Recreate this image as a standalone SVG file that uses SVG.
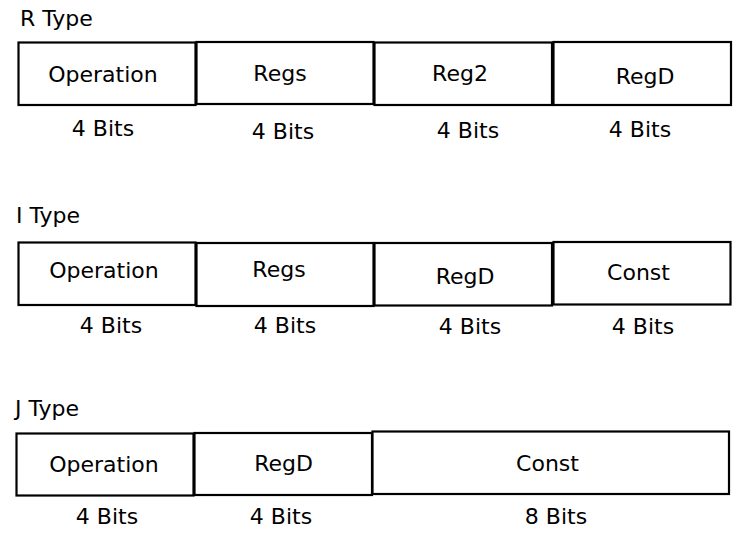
<svg xmlns="http://www.w3.org/2000/svg" width="740" height="538" viewBox="0 0 740 538">
  <style>
    .field { fill: #ffffff; stroke: #000000; stroke-width: 2.2; }
    text { font-family: "DejaVu Sans", "Liberation Sans", sans-serif; font-size: 22px; fill: #000000; }
    .c { text-anchor: middle; }
  </style>
  <rect x="0" y="0" width="740" height="538" fill="#ffffff"/>

  <!-- R type instruction format -->
  <g id="r-type">
    <text x="20" y="26">R Type</text>
    <g id="r-operation">
      <rect class="field" x="18.5" y="42.5" width="177" height="62.5"/>
      <text class="c" x="103" y="81.5">Operation</text>
      <text class="c" x="103" y="135.5">4 Bits</text>
    </g>
    <g id="r-regs">
      <rect class="field" x="196.5" y="42" width="177" height="62"/>
      <text class="c" x="280" y="80.5">Regs</text>
      <text class="c" x="283" y="138.5">4 Bits</text>
    </g>
    <g id="r-reg2">
      <rect class="field" x="374.5" y="42.5" width="177.5" height="62.5"/>
      <text class="c" x="460" y="80.5">Reg2</text>
      <text class="c" x="468" y="137.5">4 Bits</text>
    </g>
    <g id="r-regd">
      <rect class="field" x="553.5" y="42" width="177.5" height="63"/>
      <text class="c" x="645" y="83.5">RegD</text>
      <text class="c" x="640" y="136.5">4 Bits</text>
    </g>
  </g>

  <!-- I type instruction format -->
  <g id="i-type">
    <text x="16" y="222.5">I Type</text>
    <g id="i-operation">
      <rect class="field" x="18.5" y="242.5" width="177" height="62.5"/>
      <text class="c" x="104" y="277.5">Operation</text>
      <text class="c" x="111" y="332.5">4 Bits</text>
    </g>
    <g id="i-regs">
      <rect class="field" x="196.5" y="243" width="177" height="63"/>
      <text class="c" x="279" y="276.5">Regs</text>
      <text class="c" x="285" y="332.5">4 Bits</text>
    </g>
    <g id="i-regd">
      <rect class="field" x="374.5" y="243" width="177.5" height="62.5"/>
      <text class="c" x="465" y="283.5">RegD</text>
      <text class="c" x="470" y="333.5">4 Bits</text>
    </g>
    <g id="i-const">
      <rect class="field" x="553.5" y="242" width="177" height="62.5"/>
      <text class="c" x="638.5" y="279.5">Const</text>
      <text class="c" x="643" y="333.5">4 Bits</text>
    </g>
  </g>

  <!-- J type instruction format -->
  <g id="j-type">
    <text x="15" y="416">J Type</text>
    <g id="j-operation">
      <rect class="field" x="16.5" y="433.5" width="177" height="62"/>
      <text class="c" x="104" y="471.5">Operation</text>
      <text class="c" x="107" y="523.5">4 Bits</text>
    </g>
    <g id="j-regd">
      <rect class="field" x="194.5" y="433" width="177.5" height="62"/>
      <text class="c" x="283.5" y="470.5">RegD</text>
      <text class="c" x="281" y="523.5">4 Bits</text>
    </g>
    <g id="j-const">
      <rect class="field" x="372.5" y="431.5" width="356.5" height="62.5"/>
      <text class="c" x="547.5" y="470.5">Const</text>
      <text class="c" x="556" y="523.5">8 Bits</text>
    </g>
  </g>
</svg>
